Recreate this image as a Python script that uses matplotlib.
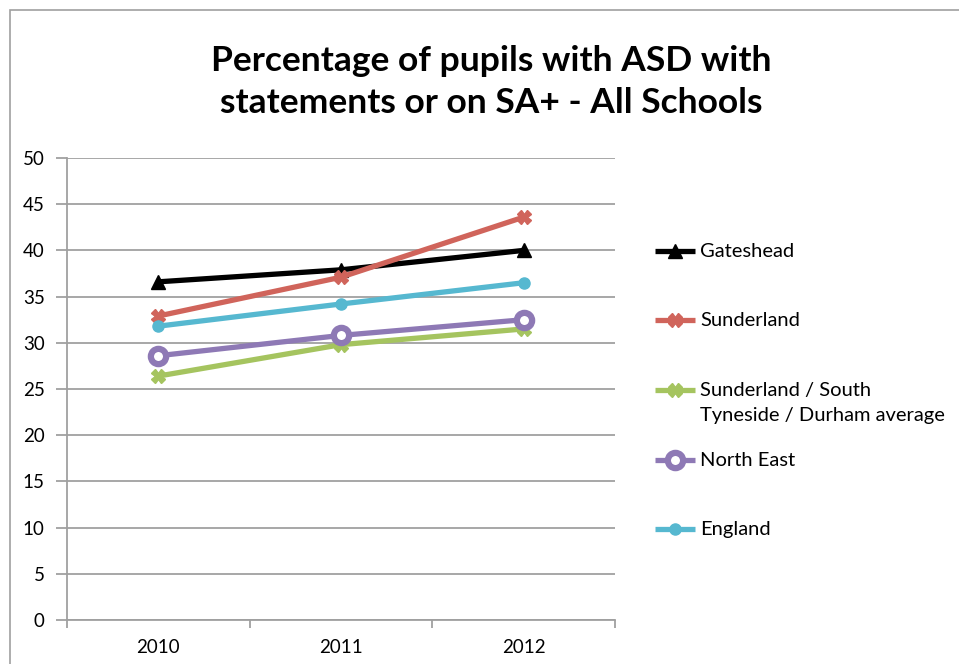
import matplotlib
matplotlib.use("Agg")
import matplotlib.pyplot as plt
from matplotlib.patches import Rectangle

years = ["2010", "2011", "2012"]
gateshead = [36.6, 37.9, 40.0]
sunderland = [32.9, 37.1, 43.6]
std_avg = [26.4, 29.8, 31.5]
north_east = [28.6, 30.8, 32.5]
england = [31.8, 34.2, 36.5]
yticks = [0, 5, 10, 15, 20, 25, 30, 35, 40, 45, 50]

plt.rcParams['font.family'] = ['Lato', 'DejaVu Sans']

W, H = 959, 664
fig = plt.figure(figsize=(W / 100, H / 100), dpi=100)
fig.patch.set_facecolor("white")

# outer chart border
fig.add_artist(Rectangle((10 / W, -0.1), 1.2, (H - 10) / H + 0.1, transform=fig.transFigure,
                         fill=False, edgecolor="#a0a0a0", linewidth=1.2))

x0, x1, y0, y1 = 67, 615, 158, 620
ax = fig.add_axes([x0 / W, 1 - y1 / H, (x1 - x0) / W, (y1 - y0) / H])

xs = list(range(len(years)))
series = [
    ("Gateshead", gateshead, "#000000", "^", dict(markersize=10)),
    ("Sunderland", sunderland, "#d0645b", "X", dict(markersize=10)),
    ("Sunderland / South\nTyneside / Durham average", std_avg, "#a5c45f", "X", dict(markersize=10)),
    ("North East", north_east, "#8e79b5", "o", dict(markersize=11, markerfacecolor="white",
                                                   markeredgewidth=4.5)),
    ("England", england, "#56b8d0", "o", dict(markersize=8)),
]
for label, vals, col, mk, kw in series:
    ax.plot(xs, vals, color=col, linewidth=3.8, marker=mk, label=label,
            solid_capstyle="butt", **kw)

ax.set_xlim(-0.5, 2.5)
ax.set_ylim(0, 50)
ax.set_yticks(yticks)
ax.set_xticks(xs)
ax.set_xticklabels(years)
ax.set_xticks([-0.5, 0.5, 1.5, 2.5], minor=True)
ax.grid(axis="y", color="#a0a0a0", linewidth=1.3)
ax.set_axisbelow(True)
for s in ["top", "right"]:
    ax.spines[s].set_visible(False)
for s in ["left", "bottom"]:
    ax.spines[s].set_color("#a0a0a0")
    ax.spines[s].set_linewidth(1.3)
ax.tick_params(axis="y", length=8, color="#a0a0a0", width=1.3, labelsize=13.5, pad=8)
ax.tick_params(axis="x", which="major", length=0, labelsize=13.5, pad=14)
ax.tick_params(axis="x", which="minor", length=6, color="#a0a0a0", width=1.3)

fig.text(491 / W, 1 - 82 / H, "Percentage of pupils with ASD with\nstatements or on SA+ - All Schools",
         ha="center", va="center", fontsize=25.5, fontweight="bold", linespacing=1.36)

# manual legend (handle aligned with first text line)
lax = fig.add_axes([0, 0, 1, 1])
lax.set_xlim(0, W)
lax.set_ylim(H, 0)
lax.axis("off")
leg_y = [251, 320, 390, 460, 529]
for (label, vals, col, mk, kw), yy in zip(series, leg_y):
    lax.plot([655, 695], [yy, yy], color=col, linewidth=3.8, solid_capstyle="butt")
    lax.plot([675], [yy], color=col, marker=mk, **kw)
    lax.text(700, yy - 8, label, ha="left", va="top", fontsize=14.5, linespacing=1.55)

fig.savefig("out.png", dpi=100, facecolor="white")
